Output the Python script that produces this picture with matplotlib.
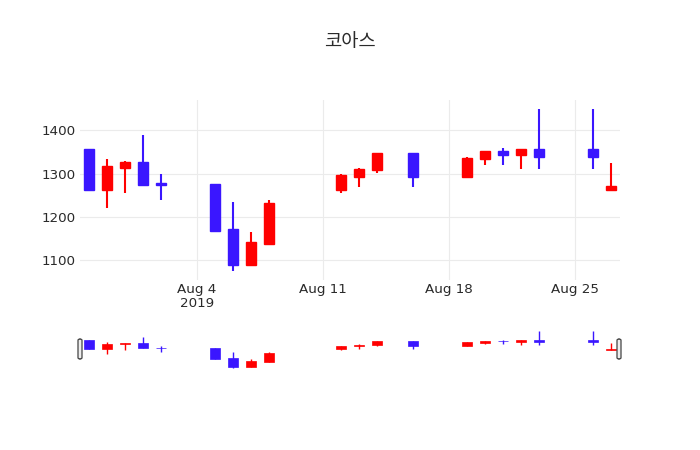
import datetime as dt
import matplotlib
matplotlib.use('Agg')
import matplotlib.pyplot as plt
import matplotlib.dates as mdates
from matplotlib.patches import FancyBboxPatch

plt.rcParams['font.family'] = ['DejaVu Sans']

# daily OHLC
days = ['2019-07-29', '2019-07-30', '2019-07-31', '2019-08-01', '2019-08-02',
        '2019-08-05', '2019-08-06', '2019-08-07', '2019-08-08',
        '2019-08-12', '2019-08-13', '2019-08-14', '2019-08-16',
        '2019-08-19', '2019-08-20', '2019-08-21', '2019-08-22', '2019-08-23',
        '2019-08-26', '2019-08-27']
opens = [1357, 1263, 1314, 1327, 1278, 1277, 1173, 1089, 1138, 1263,
         1293, 1309, 1347, 1293, 1333, 1352, 1343, 1356, 1356, 1262]
highs = [1357, 1334, 1330, 1390, 1300, 1277, 1235, 1165, 1240, 1300,
         1314, 1347, 1347, 1339, 1352, 1360, 1356, 1449, 1449, 1325]
lows = [1263, 1221, 1256, 1273, 1240, 1165, 1076, 1089, 1138, 1256,
        1270, 1301, 1270, 1293, 1320, 1320, 1310, 1310, 1310, 1262]
closes = [1263, 1317, 1328, 1273, 1274, 1168, 1089, 1142, 1232, 1297,
          1311, 1347, 1293, 1336, 1352, 1344, 1356, 1338, 1338, 1271]

tick_days = ['2019-08-04', '2019-08-11', '2019-08-18', '2019-08-25']
tick_labels = ['Aug 4\n2019', 'Aug 11', 'Aug 18', 'Aug 25']
y_ticks = [1100, 1200, 1300, 1400]

UP = '#ff0000'
DOWN = '#3a16ff'
TXT = '#2a2a2a'

x = [mdates.date2num(dt.datetime.strptime(d, '%Y-%m-%d')) for d in days]
xt = [mdates.date2num(dt.datetime.strptime(d, '%Y-%m-%d')) for d in tick_days]
xmin, xmax = x[0] - 0.5, x[-1] + 0.5
ymin, ymax = 1055, 1470


def candles(ax, lw_wick, lw_edge):
    for xi, o, h, l, c in zip(x, opens, highs, lows, closes):
        col = UP if c >= o else DOWN
        ax.vlines(xi, l, h, color=col, linewidth=lw_wick, zorder=2)
        ax.bar(xi, abs(c - o), bottom=min(o, c), width=0.56, color=col,
               edgecolor=col, linewidth=lw_edge, zorder=3)


fig = plt.figure(figsize=(7, 4.5), dpi=100)
ax = fig.add_axes([80 / 700, 1 - 280 / 450, 540 / 700, 180 / 450])
candles(ax, 1.5, 1.0)
ax.set_xlim(xmin, xmax)
ax.set_ylim(ymin, ymax)
ax.set_xticks(xt)
ax.set_xticklabels(tick_labels, linespacing=1.15)
ax.set_yticks(y_ticks)
ax.grid(True, color='#ebebeb', linewidth=0.8)
ax.set_axisbelow(True)
for s in ax.spines.values():
    s.set_visible(False)
ax.tick_params(length=0, labelsize=9.7, colors=TXT, pad=2)
ax.tick_params(axis='y', pad=3)

fig.text(350 / 700, 1 - 42 / 450, '코아스', ha='center', va='center',
         fontsize=13.5, color=TXT,
         family=['Noto Sans CJK KR', 'DejaVu Sans'])

# range slider
sl = fig.add_axes([80 / 700, 1 - 370 / 450, 540 / 700, 41 / 450])
candles(sl, 1.0, 0.5)
sl.set_xlim(xmin, xmax)
sl.set_ylim(ymin, ymax)
sl.set_xticks([])
sl.set_yticks([])
for s in sl.spines.values():
    s.set_visible(False)

for hx in (78, 617):
    fig.patches.append(FancyBboxPatch((hx / 700, 1 - 359 / 450), 4 / 700, 20 / 450,
                                      boxstyle='round,pad=0,rounding_size=0.003',
                                      transform=fig.transFigure, facecolor='#eeeeee',
                                      edgecolor='#444444', linewidth=0.9, zorder=5))

fig.savefig('out.png', dpi=100)
